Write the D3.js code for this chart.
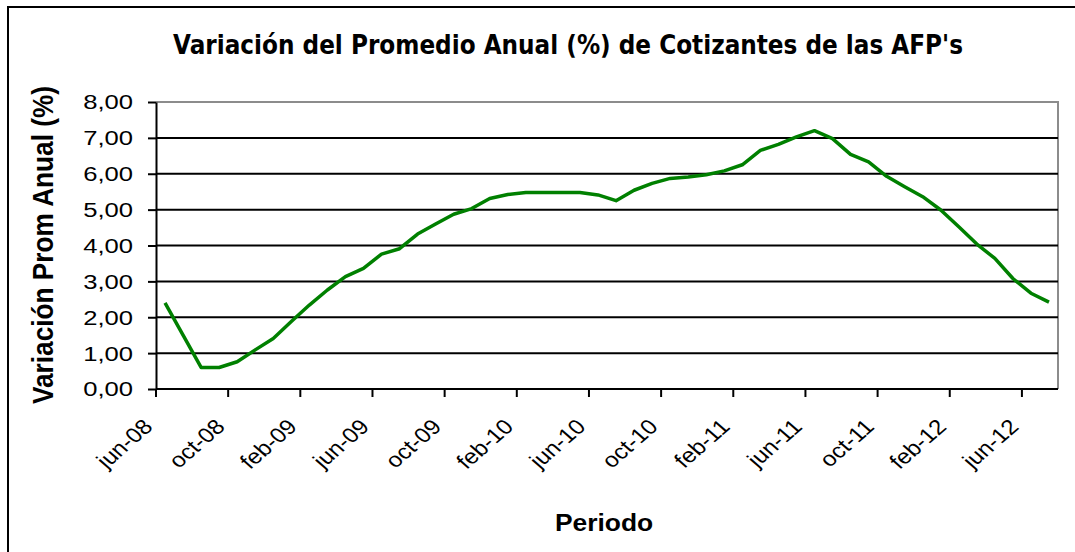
<!DOCTYPE html>
<html>
<head>
<meta charset="utf-8">
<script src="https://cdn.jsdelivr.net/npm/d3@7"></script>
<style>
  body { margin: 0; background: #fff; }
  svg { display: block; }
  text { font-family: "Liberation Sans", Arial, sans-serif; fill: #000; }
</style>
</head>
<body>
<svg id="chart" width="1075" height="552"></svg>
<script>
// periodos mensuales jun-08 .. jul-12
var months = ["ene", "feb", "mar", "abr", "may", "jun", "jul", "ago", "sep", "oct", "nov", "dic"];
var periodos = [];
for (var k = 0; k < 50; k++) {
  var m = (5 + k) % 12, yy = 8 + Math.floor((5 + k) / 12);
  periodos.push(months[m] + "-" + (yy < 10 ? "0" + yy : yy));
}
// variacion prom anual (%)
var variacion = [2.40, 1.50, 0.60, 0.60, 0.76, 1.09, 1.41, 1.88, 2.34, 2.76,
  3.13, 3.36, 3.76, 3.91, 4.32, 4.60, 4.87, 5.03, 5.31, 5.42,
  5.48, 5.48, 5.48, 5.48, 5.41, 5.25, 5.54, 5.73, 5.87, 5.91,
  5.97, 6.08, 6.25, 6.65, 6.82, 7.03, 7.20, 6.98, 6.54, 6.33,
  5.93, 5.64, 5.36, 4.99, 4.52, 4.04, 3.64, 3.08, 2.67, 2.42];
var yTicks = [0, 1, 2, 3, 4, 5, 6, 7, 8];
var labelEvery = 4;

var svg = d3.select("#chart");
var pLeft = 156, pRight = 1058, pTop = 102, pBottom = 389;

// marco exterior
svg.append("rect").attr("x", 8).attr("y", 7).attr("width", 1080).attr("height", 560)
  .attr("fill", "none").attr("stroke", "#000").attr("stroke-width", 2);

var x = d3.scaleBand().domain(d3.range(periodos.length)).range([pLeft, pRight]).padding(0);
var y = d3.scaleLinear().domain([0, 8]).range([pBottom, pTop]);

// borde del area de trazado (gris)
svg.append("path")
  .attr("d", "M" + pLeft + "," + pTop + "H" + pRight + "V" + pBottom)
  .attr("fill", "none").attr("stroke", "#8c8c8c").attr("stroke-width", 2);

// lineas de grilla
svg.append("g").selectAll("line").data(yTicks.filter(function(d) { return d > 0 && d < 8; }))
  .enter().append("line")
  .attr("x1", pLeft).attr("x2", pRight)
  .attr("y1", function(d) { return y(d); }).attr("y2", function(d) { return y(d); })
  .attr("stroke", "#000").attr("stroke-width", 2);

// eje Y
var yAxis = svg.append("g").attr("transform", "translate(" + pLeft + ",0)")
  .call(d3.axisLeft(y).tickValues(yTicks).tickSize(8).tickSizeOuter(0).tickFormat(""));
yAxis.select(".domain").attr("stroke", "#000").attr("stroke-width", 2);
yAxis.selectAll(".tick line").attr("stroke", "#000").attr("stroke-width", 2);

svg.append("g").selectAll("text").data(yTicks).enter().append("text")
  .attr("transform", function(d) { return "translate(133," + y(d) + ") scale(1.25,1)"; })
  .attr("dy", "0.36em")
  .attr("text-anchor", "end")
  .style("font-size", "20.5px")
  .text(function(d) { return d3.format(".2f")(d).replace(".", ","); });

// eje X
var tickIdx = d3.range(0, periodos.length, labelEvery);
var bw = x.bandwidth();
var xAxis = svg.append("g").attr("transform", "translate(0," + pBottom + ")");
xAxis.append("line").attr("x1", pLeft).attr("x2", pRight).attr("stroke", "#000").attr("stroke-width", 2);
xAxis.selectAll(".tk").data(tickIdx).enter().append("line")
  .attr("x1", function(i) { return x(i); }).attr("x2", function(i) { return x(i); })
  .attr("y1", 0).attr("y2", 8)
  .attr("stroke", "#000").attr("stroke-width", 2);

svg.append("g").selectAll("text").data(tickIdx).enter().append("text")
  .attr("transform", function(i) {
    return "translate(" + (x(i) + bw / 2 - 11) + ",428) scale(1.15,1) rotate(-45)";
  })
  .attr("text-anchor", "end")
  .style("font-size", "21px")
  .text(function(i) { return periodos[i]; });

// serie
var line = d3.line()
  .x(function(d, i) { return x(i) + bw / 2; })
  .y(function(d) { return y(d); });
svg.append("path").datum(variacion)
  .attr("d", line)
  .attr("fill", "none").attr("stroke", "#008000").attr("stroke-width", 3.5)
  .attr("stroke-linejoin", "round");

// titulos
svg.append("text")
  .attr("x", 568).attr("y", 54)
  .attr("text-anchor", "middle")
  .attr("textLength", 790).attr("lengthAdjust", "spacingAndGlyphs")
  .style("font-family", "'DejaVu Sans', Verdana, sans-serif")
  .style("font-weight", "bold").style("font-size", "26px")
  .text("Variación del Promedio Anual (%) de Cotizantes de las AFP's");

svg.append("text")
  .attr("transform", "translate(53,245) scale(1.2,1) rotate(-90)")
  .attr("text-anchor", "middle")
  .attr("textLength", 318).attr("lengthAdjust", "spacingAndGlyphs")
  .style("font-weight", "bold").style("font-size", "25px")
  .text("Variación Prom Anual (%)");

svg.append("text")
  .attr("transform", "translate(604,531) scale(1.1,1)")
  .attr("text-anchor", "middle")
  .style("font-weight", "bold").style("font-size", "24px")
  .text("Periodo");
</script>
</body>
</html>
